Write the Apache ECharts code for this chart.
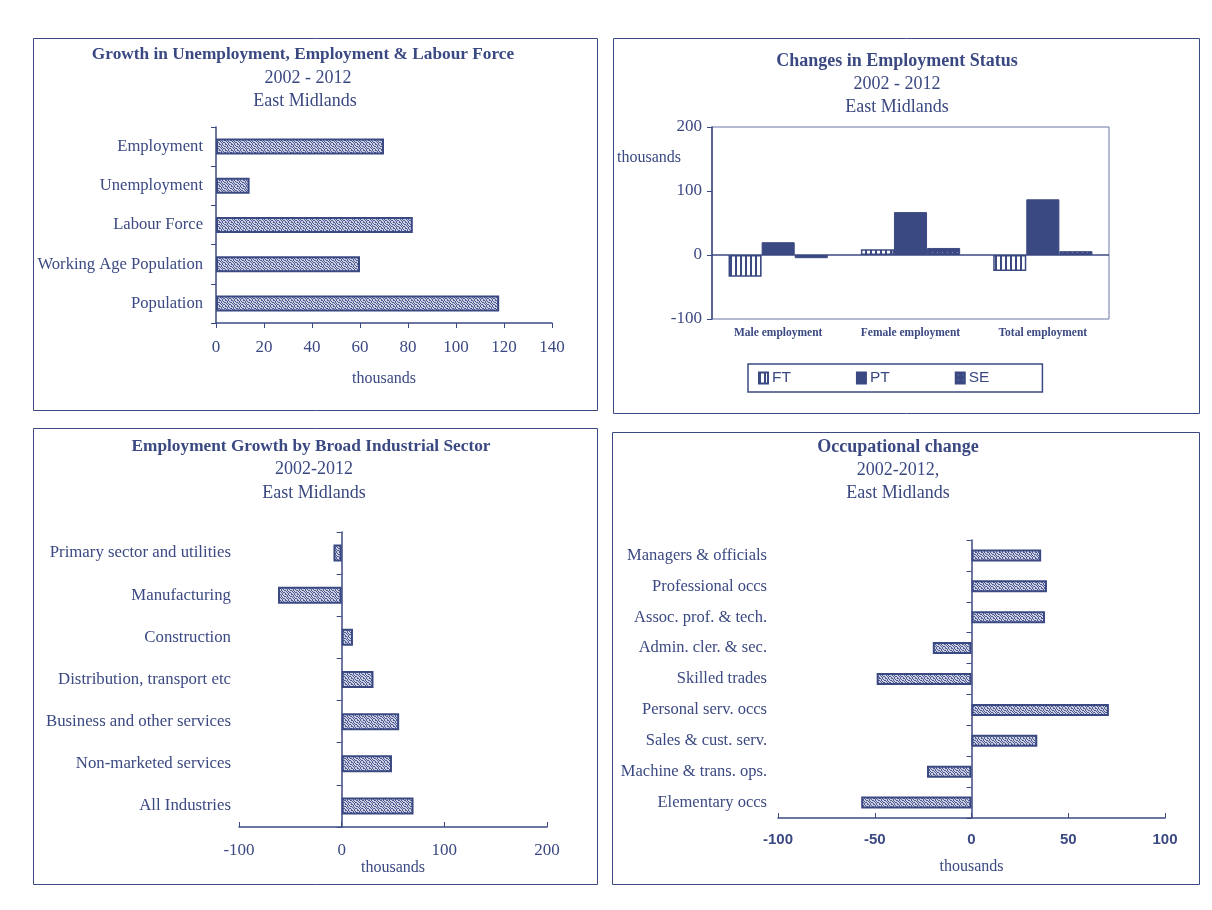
<!DOCTYPE html>
<html>
<head>
<meta charset="utf-8">
<title>East Midlands 2002-2012</title>
<script src="https://cdn.jsdelivr.net/npm/echarts@6/dist/echarts.min.js"></script>
<style>
  html, body { margin: 0; padding: 0; background: #ffffff; }
  #chart { width: 1212px; height: 910px; }
</style>
</head>
<body>
<div id="chart"></div>
<script>
// ---- Growth in Unemployment, Employment & Labour Force ----
const growthCategories = ['Employment', 'Unemployment', 'Labour Force', 'Working Age Population', 'Population'];
const growthValues = [70, 14, 82, 60, 118];
const growthTicks = [0, 20, 40, 60, 80, 100, 120, 140];

// ---- Changes in Employment Status ----
const statusCategories = ['Male employment', 'Female employment', 'Total employment'];
const statusFT = [-34, 9, -25];
const statusPT = [20, 67, 87];
const statusSE = [-5, 11, 6];
const statusTicks = [-100, 0, 100, 200];

// ---- Employment Growth by Broad Industrial Sector ----
const sectorCategories = ['Primary sector and utilities', 'Manufacturing', 'Construction',
  'Distribution, transport etc', 'Business and other services', 'Non-marketed services', 'All Industries'];
const sectorValues = [-8, -62, 11, 31, 56, 49, 70];
const sectorTicks = [-100, 0, 100, 200];

// ---- Occupational change ----
const occCategories = ['Managers & officials', 'Professional occs', 'Assoc. prof. & tech.',
  'Admin. cler. & sec.', 'Skilled trades', 'Personal serv. occs', 'Sales & cust. serv.',
  'Machine & trans. ops.', 'Elementary occs'];
const occValues = [36, 39, 38, -20, -49, 71, 34, -23, -57];
const occTicks = [-100, -50, 0, 50, 100];

const NAVY = '#3b4982';
const SERIF = '"Liberation Serif", "Times New Roman", serif';
const SANS = '"Liberation Sans", Arial, sans-serif';

// Small repeating canvas tiles used as bar fills
function tile(w, h, bg, fg, pts) {
  const c = document.createElement('canvas');
  c.width = w; c.height = h;
  const g = c.getContext('2d');
  g.fillStyle = bg; g.fillRect(0, 0, w, h);
  g.fillStyle = fg;
  pts.forEach(p => g.fillRect(p[0], p[1], p[2] || 1, p[3] || 1));
  return { image: c, repeat: 'repeat' };
}
// speckled grey-blue fill
const dither = tile(6, 6, '#cdd1e2', '#4d5a93', [
  [0, 0], [3, 0], [4, 0], [1, 1], [5, 1], [2, 2], [3, 2], [0, 3], [4, 3],
  [1, 4], [2, 4], [5, 4], [0, 5], [3, 5], [5, 2]
]);
// vertical stripes
const stripes = tile(5, 4, '#ffffff', NAVY, [[0, 0, 2, 4]]);
// dark fill with faint dots
const dotted = tile(5, 5, NAVY, '#7f89b5', [[2, 2]]);

const barBorder = { borderColor: NAVY, borderWidth: 2 };

function catAxisLabel(size, margin) {
  return { color: NAVY, fontFamily: SERIF, fontSize: size, margin: margin };
}

const option = {
  backgroundColor: '#ffffff',
  animation: false,
  grid: [
    { left: 216, top: 127, width: 336, height: 196, outerBoundsMode: 'none' },
    { left: 712, top: 127, width: 397, height: 192, show: true, borderColor: '#6b76a3', borderWidth: 1, outerBoundsMode: 'none' },
    { left: 239, top: 532, width: 308, height: 295, outerBoundsMode: 'none' },
    { left: 778, top: 540, width: 387, height: 278, outerBoundsMode: 'none' }
  ],
  xAxis: [
    {
      gridIndex: 0, type: 'value', min: growthTicks[0], max: growthTicks[growthTicks.length - 1], interval: 20,
      axisLine: { show: true, lineStyle: { color: NAVY, width: 1.5 } },
      axisTick: { show: true, length: 5, lineStyle: { color: NAVY } },
      splitLine: { show: false },
      axisLabel: { color: NAVY, fontFamily: SERIF, fontSize: 17, margin: 16 },
      name: 'thousands', nameLocation: 'middle', nameGap: 48,
      nameTextStyle: { color: NAVY, fontFamily: SERIF, fontSize: 16 }
    },
    {
      gridIndex: 1, type: 'category', data: statusCategories,
      axisLine: { show: false, onZero: false },
      axisTick: { show: false },
      axisLabel: { color: NAVY, fontFamily: SERIF, fontSize: 11.5, fontWeight: 'bold', margin: 8 }
    },
    {
      gridIndex: 2, type: 'value', min: sectorTicks[0], max: sectorTicks[sectorTicks.length - 1], interval: 100,
      axisLine: { show: true, lineStyle: { color: NAVY, width: 1.5 } },
      axisTick: { show: true, inside: true, length: 5, lineStyle: { color: NAVY } },
      splitLine: { show: false },
      axisLabel: { color: NAVY, fontFamily: SERIF, fontSize: 17, margin: 15 },
      name: 'thousands', nameLocation: 'middle', nameGap: 32,
      nameTextStyle: { color: NAVY, fontFamily: SERIF, fontSize: 16 }
    },
    {
      gridIndex: 3, type: 'value', min: occTicks[0], max: occTicks[occTicks.length - 1], interval: 50,
      axisLine: { show: true, lineStyle: { color: NAVY, width: 1.5 } },
      axisTick: { show: true, inside: true, length: 5, lineStyle: { color: NAVY } },
      splitLine: { show: false },
      axisLabel: { color: NAVY, fontFamily: SANS, fontSize: 15, fontWeight: 'bold', margin: 14 },
      name: 'thousands', nameLocation: 'middle', nameGap: 41,
      nameTextStyle: { color: NAVY, fontFamily: SERIF, fontSize: 16 }
    }
  ],
  yAxis: [
    {
      gridIndex: 0, type: 'category', data: growthCategories, inverse: true,
      axisLine: { show: true, lineStyle: { color: NAVY, width: 1.5 } },
      axisTick: { show: true, length: 5, lineStyle: { color: NAVY } },
      axisLabel: catAxisLabel(16.6, 13)
    },
    {
      gridIndex: 1, type: 'value', min: statusTicks[0], max: statusTicks[statusTicks.length - 1], interval: 100,
      axisLine: { show: true, lineStyle: { color: NAVY, width: 1.5 } },
      axisTick: { show: true, length: 5, lineStyle: { color: NAVY } },
      splitLine: { show: false },
      axisLabel: { color: NAVY, fontFamily: SERIF, fontSize: 17, margin: 10 }
    },
    {
      gridIndex: 2, type: 'category', data: sectorCategories, inverse: true,
      axisLine: { show: true, lineStyle: { color: NAVY, width: 1.5 } },
      axisTick: { show: true, length: 5, lineStyle: { color: NAVY } },
      axisLabel: catAxisLabel(16.8, 8)
    },
    {
      gridIndex: 3, type: 'category', data: occCategories, inverse: true,
      axisLine: { show: true, lineStyle: { color: NAVY, width: 1.5 } },
      axisTick: { show: true, length: 5, lineStyle: { color: NAVY } },
      axisLabel: catAxisLabel(16.5, 11)
    }
  ],
  legend: {
    left: 748, top: 364,
    padding: [6, 53, 6, 10], itemGap: 65,
    itemWidth: 9, itemHeight: 11, icon: 'rect',
    borderColor: NAVY, borderWidth: 1.5,
    textStyle: { color: NAVY, fontFamily: SANS, fontSize: 15.5, padding: [0, 0, 0, -1] },
    data: ['FT', 'PT', 'SE']
  },
  series: [
    {
      type: 'bar', xAxisIndex: 0, yAxisIndex: 0, data: growthValues, barWidth: 16,
      itemStyle: Object.assign({ color: dither }, barBorder)
    },
    {
      name: 'FT', type: 'bar', xAxisIndex: 1, yAxisIndex: 1, data: statusFT,
      barGap: '0%', barCategoryGap: '25%',
      itemStyle: { color: stripes, borderColor: NAVY, borderWidth: 1.5 },
      markLine: {
        silent: true, symbol: 'none', label: { show: false },
        lineStyle: { color: NAVY, type: 'solid', width: 1.5 },
        data: [{ yAxis: 0 }]
      }
    },
    {
      name: 'PT', type: 'bar', xAxisIndex: 1, yAxisIndex: 1, data: statusPT,
      barGap: '0%', barCategoryGap: '25%',
      itemStyle: { color: NAVY, borderColor: NAVY, borderWidth: 1 }
    },
    {
      name: 'SE', type: 'bar', xAxisIndex: 1, yAxisIndex: 1, data: statusSE,
      barGap: '0%', barCategoryGap: '25%',
      itemStyle: { color: dotted, borderColor: NAVY, borderWidth: 1 }
    },
    {
      type: 'bar', xAxisIndex: 2, yAxisIndex: 2, data: sectorValues, barWidth: 17,
      itemStyle: Object.assign({ color: dither }, barBorder)
    },
    {
      type: 'bar', xAxisIndex: 3, yAxisIndex: 3, data: occValues, barWidth: 12,
      itemStyle: Object.assign({ color: dither }, barBorder)
    }
  ],
  graphic: [
    // panel frames
    { type: 'rect', shape: { x: 33.5, y: 38.5, width: 564, height: 372 }, style: { fill: 'none', stroke: NAVY, lineWidth: 1 }, z: -1 },
    { type: 'rect', shape: { x: 613.5, y: 38.5, width: 586, height: 375 }, style: { fill: 'none', stroke: NAVY, lineWidth: 1 }, z: -1 },
    { type: 'rect', shape: { x: 33.5, y: 428.5, width: 564, height: 456 }, style: { fill: 'none', stroke: NAVY, lineWidth: 1 }, z: -1 },
    { type: 'rect', shape: { x: 612.5, y: 432.5, width: 587, height: 452 }, style: { fill: 'none', stroke: NAVY, lineWidth: 1 }, z: -1 },

    // panel headings
    { type: 'text', x: 303, y: 55, style: { text: 'Growth in Unemployment, Employment & Labour Force', font: 'bold 17.3px ' + SERIF, fill: NAVY, textAlign: 'center', textVerticalAlign: 'middle' } },
    { type: 'text', x: 308, y: 78, style: { text: '2002 - 2012', font: '18px ' + SERIF, fill: NAVY, textAlign: 'center', textVerticalAlign: 'middle' } },
    { type: 'text', x: 305, y: 101, style: { text: 'East Midlands', font: '18px ' + SERIF, fill: NAVY, textAlign: 'center', textVerticalAlign: 'middle' } },

    { type: 'text', x: 897, y: 61, style: { text: 'Changes in Employment Status', font: 'bold 18px ' + SERIF, fill: NAVY, textAlign: 'center', textVerticalAlign: 'middle' } },
    { type: 'text', x: 897, y: 84, style: { text: '2002 - 2012', font: '18px ' + SERIF, fill: NAVY, textAlign: 'center', textVerticalAlign: 'middle' } },
    { type: 'text', x: 897, y: 107, style: { text: 'East Midlands', font: '18px ' + SERIF, fill: NAVY, textAlign: 'center', textVerticalAlign: 'middle' } },
    { type: 'text', x: 617, y: 158, style: { text: 'thousands', font: '16px ' + SERIF, fill: NAVY, textAlign: 'left', textVerticalAlign: 'middle' } },

    { type: 'text', x: 311, y: 447, style: { text: 'Employment Growth by Broad Industrial Sector', font: 'bold 17.3px ' + SERIF, fill: NAVY, textAlign: 'center', textVerticalAlign: 'middle' } },
    { type: 'text', x: 314, y: 469, style: { text: '2002-2012', font: '18px ' + SERIF, fill: NAVY, textAlign: 'center', textVerticalAlign: 'middle' } },
    { type: 'text', x: 314, y: 493, style: { text: 'East Midlands', font: '18px ' + SERIF, fill: NAVY, textAlign: 'center', textVerticalAlign: 'middle' } },

    { type: 'text', x: 898, y: 447, style: { text: 'Occupational change', font: 'bold 18px ' + SERIF, fill: NAVY, textAlign: 'center', textVerticalAlign: 'middle' } },
    { type: 'text', x: 898, y: 470, style: { text: '2002-2012,', font: '18px ' + SERIF, fill: NAVY, textAlign: 'center', textVerticalAlign: 'middle' } },
    { type: 'text', x: 898, y: 493, style: { text: 'East Midlands', font: '18px ' + SERIF, fill: NAVY, textAlign: 'center', textVerticalAlign: 'middle' } }
  ]
};

const chart = echarts.init(document.getElementById('chart'), null, { renderer: 'canvas' });
chart.setOption(option);
</script>
</body>
</html>
